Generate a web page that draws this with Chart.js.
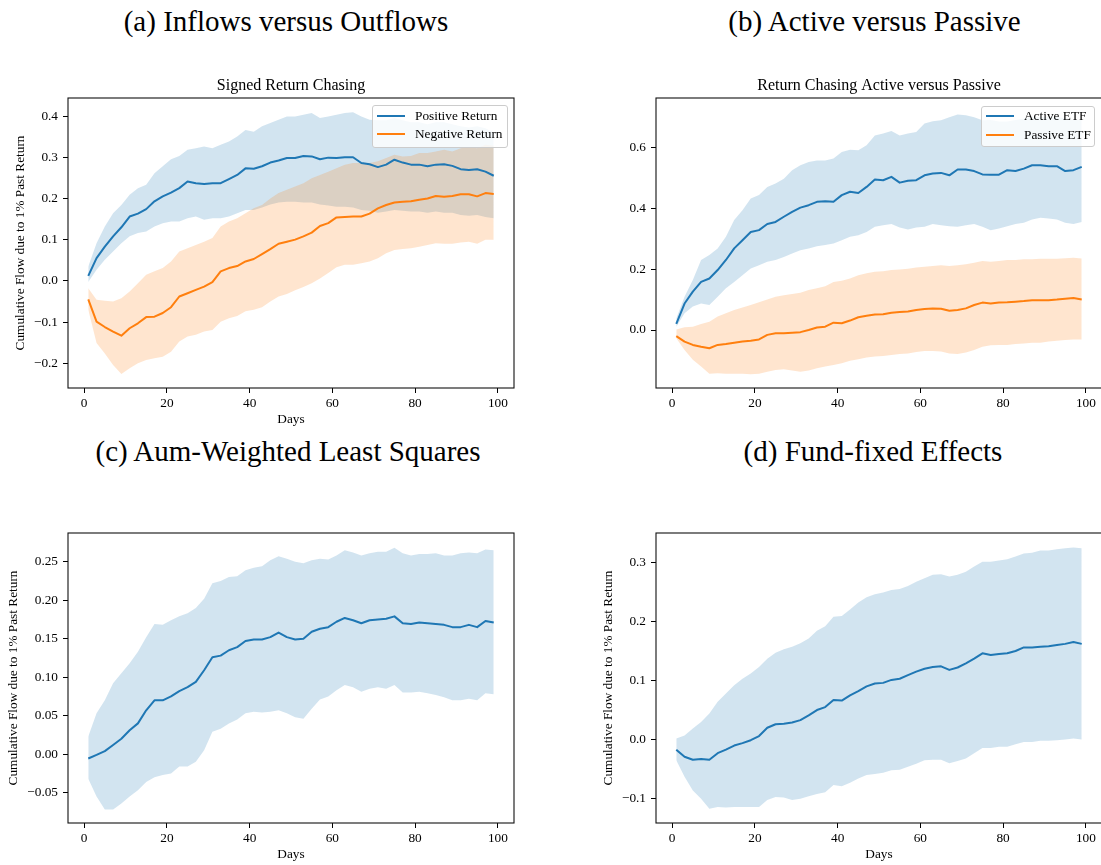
<!DOCTYPE html>
<html><head><meta charset="utf-8">
<script src="https://cdn.jsdelivr.net/npm/chart.js@4.4.1/dist/chart.umd.min.js"></script>
<style>
html,body{margin:0;padding:0;width:1101px;height:865px;overflow:hidden;background:#fff;position:relative;}
.cap{position:absolute;font-family:"Liberation Serif","Times New Roman",serif;font-size:29px;line-height:29px;color:#000;white-space:nowrap;transform:translateX(-50%);}
.leg{position:absolute;background:rgba(255,255,255,0.8);border:1px solid #cccccc;border-radius:3px;box-sizing:border-box;font-family:"Liberation Serif","Times New Roman",serif;font-size:13.3px;color:#000;z-index:5;}
.legtxt{position:absolute;white-space:nowrap;line-height:16px;}
.legsw{position:absolute;height:2px;}
</style></head><body>
<script>
// ---------- data ----------
const days = [1,3,5,7,9,11,13,15,17,19,21,23,25,27,29,31,33,35,37,39,41,43,45,47,49,51,53,55,57,59,61,63,65,67,69,71,73,75,77,79,81,83,85,87,89,91,93,95,97,99];
const xTicks = [0,20,40,60,80,100];
const xTickLabels = ['0','20','40','60','80','100'];

// (a) Inflows versus Outflows
const aSeriesNames = ['Positive Return','Negative Return'];
const aPosMean = [0.012,0.055,0.083,0.108,0.13,0.156,0.163,0.174,0.193,0.205,0.214,0.225,0.241,0.237,0.235,0.237,0.237,0.247,0.257,0.273,0.272,0.278,0.287,0.292,0.298,0.298,0.303,0.302,0.295,0.299,0.298,0.30,0.30,0.286,0.283,0.276,0.282,0.294,0.287,0.282,0.282,0.278,0.282,0.283,0.279,0.271,0.269,0.271,0.265,0.255];
const aPosUpper = [0.035,0.091,0.132,0.164,0.184,0.209,0.225,0.233,0.261,0.278,0.295,0.303,0.318,0.322,0.326,0.322,0.33,0.338,0.35,0.366,0.362,0.375,0.383,0.391,0.399,0.399,0.403,0.407,0.395,0.399,0.403,0.407,0.409,0.399,0.391,0.39,0.39,0.395,0.39,0.385,0.385,0.38,0.385,0.385,0.38,0.375,0.372,0.375,0.37,0.36];
const aPosLower = [-0.003,0.027,0.051,0.071,0.091,0.108,0.116,0.12,0.132,0.14,0.144,0.144,0.152,0.156,0.148,0.152,0.152,0.156,0.164,0.172,0.172,0.178,0.185,0.19,0.192,0.192,0.19,0.19,0.185,0.183,0.18,0.18,0.178,0.172,0.17,0.165,0.168,0.172,0.17,0.168,0.168,0.165,0.168,0.165,0.165,0.16,0.158,0.16,0.155,0.152];
const aNegMean = [-0.045,-0.099,-0.112,-0.123,-0.133,-0.115,-0.103,-0.088,-0.087,-0.078,-0.064,-0.038,-0.03,-0.022,-0.014,-0.003,0.023,0.031,0.036,0.047,0.053,0.065,0.077,0.09,0.095,0.1,0.108,0.117,0.133,0.14,0.154,0.155,0.156,0.156,0.163,0.176,0.184,0.19,0.192,0.193,0.197,0.2,0.206,0.204,0.206,0.21,0.21,0.205,0.213,0.211];
const aNegUpper = [-0.018,-0.046,-0.048,-0.05,-0.042,-0.026,-0.006,0.015,0.023,0.031,0.047,0.071,0.079,0.087,0.095,0.104,0.132,0.144,0.152,0.164,0.176,0.184,0.2,0.213,0.221,0.229,0.237,0.249,0.257,0.265,0.273,0.282,0.286,0.286,0.286,0.29,0.298,0.306,0.302,0.303,0.31,0.31,0.314,0.318,0.314,0.322,0.324,0.322,0.33,0.328];
const aNegLower = [-0.07,-0.151,-0.176,-0.204,-0.226,-0.212,-0.2,-0.192,-0.188,-0.184,-0.172,-0.147,-0.135,-0.131,-0.123,-0.119,-0.099,-0.091,-0.085,-0.074,-0.07,-0.064,-0.05,-0.038,-0.032,-0.023,-0.015,-0.006,0.006,0.019,0.033,0.039,0.039,0.043,0.047,0.055,0.067,0.075,0.077,0.079,0.083,0.087,0.091,0.09,0.09,0.093,0.095,0.09,0.1,0.1];
const aYTicks = [-0.2,-0.1,0,0.1,0.2,0.3,0.4];
const aYTickLabels = ['\u22120.2','\u22120.1','0.0','0.1','0.2','0.3','0.4'];

// (b) Active versus Passive
const bSeriesNames = ['Active ETF','Passive ETF'];
const bActMean = [0.02,0.087,0.126,0.158,0.169,0.197,0.23,0.268,0.295,0.322,0.328,0.348,0.355,0.372,0.388,0.402,0.41,0.421,0.423,0.421,0.443,0.454,0.45,0.47,0.494,0.492,0.503,0.484,0.49,0.492,0.508,0.514,0.516,0.508,0.527,0.527,0.522,0.511,0.51,0.51,0.525,0.522,0.53,0.541,0.541,0.538,0.538,0.522,0.525,0.536];
const bActUpper = [0.038,0.109,0.164,0.23,0.246,0.268,0.306,0.361,0.393,0.432,0.443,0.47,0.481,0.497,0.525,0.541,0.552,0.557,0.557,0.563,0.585,0.592,0.59,0.607,0.639,0.645,0.654,0.639,0.645,0.65,0.678,0.686,0.689,0.699,0.708,0.705,0.699,0.689,0.69,0.685,0.685,0.69,0.695,0.70,0.70,0.70,0.70,0.695,0.69,0.69];
const bActLower = [0.011,0.055,0.077,0.087,0.082,0.109,0.137,0.158,0.18,0.202,0.213,0.224,0.23,0.24,0.251,0.262,0.268,0.275,0.279,0.284,0.295,0.306,0.311,0.322,0.339,0.344,0.348,0.337,0.33,0.337,0.339,0.348,0.344,0.341,0.339,0.344,0.348,0.339,0.328,0.333,0.341,0.348,0.352,0.363,0.369,0.366,0.363,0.352,0.348,0.355];
const bPasMean = [-0.02,-0.038,-0.049,-0.055,-0.06,-0.049,-0.046,-0.042,-0.038,-0.035,-0.031,-0.016,-0.011,-0.011,-0.009,-0.007,0.0,0.008,0.011,0.024,0.022,0.031,0.042,0.047,0.051,0.052,0.057,0.059,0.061,0.066,0.069,0.071,0.07,0.063,0.066,0.071,0.082,0.09,0.087,0.09,0.091,0.093,0.095,0.098,0.098,0.098,0.1,0.103,0.105,0.1];
const bPasUpper = [0.002,0.009,0.011,0.02,0.027,0.044,0.055,0.066,0.074,0.082,0.091,0.1,0.109,0.114,0.118,0.122,0.131,0.137,0.144,0.158,0.162,0.169,0.18,0.186,0.191,0.193,0.197,0.199,0.201,0.205,0.208,0.21,0.213,0.21,0.213,0.216,0.221,0.227,0.224,0.227,0.23,0.23,0.232,0.232,0.234,0.234,0.234,0.236,0.237,0.235];
const bPasLower = [-0.027,-0.066,-0.098,-0.12,-0.144,-0.142,-0.144,-0.144,-0.144,-0.145,-0.144,-0.137,-0.131,-0.129,-0.133,-0.137,-0.133,-0.126,-0.12,-0.115,-0.109,-0.101,-0.096,-0.09,-0.087,-0.085,-0.082,-0.079,-0.077,-0.072,-0.069,-0.069,-0.071,-0.077,-0.079,-0.074,-0.066,-0.055,-0.05,-0.049,-0.049,-0.046,-0.044,-0.042,-0.042,-0.038,-0.035,-0.033,-0.031,-0.031];
const bYTicks = [0,0.2,0.4,0.6];
const bYTickLabels = ['0.0','0.2','0.4','0.6'];

// (c) Aum-Weighted Least Squares
const cMean = [-0.0056,-0.001,0.004,0.012,0.02,0.031,0.04,0.057,0.07,0.07,0.075,0.082,0.087,0.094,0.109,0.126,0.128,0.135,0.139,0.147,0.149,0.149,0.152,0.158,0.152,0.149,0.15,0.159,0.163,0.165,0.172,0.177,0.174,0.17,0.174,0.175,0.176,0.179,0.17,0.169,0.171,0.17,0.169,0.168,0.165,0.165,0.168,0.165,0.173,0.171];
const cUpper = [0.023,0.053,0.07,0.092,0.105,0.118,0.133,0.152,0.169,0.168,0.174,0.179,0.183,0.19,0.202,0.222,0.225,0.23,0.231,0.239,0.242,0.244,0.252,0.257,0.254,0.25,0.248,0.252,0.254,0.253,0.258,0.265,0.262,0.258,0.261,0.263,0.263,0.268,0.261,0.258,0.26,0.26,0.261,0.258,0.258,0.261,0.262,0.261,0.266,0.265];
const cLower = [-0.032,-0.055,-0.072,-0.072,-0.064,-0.055,-0.047,-0.036,-0.03,-0.027,-0.025,-0.016,-0.016,-0.01,0.005,0.029,0.033,0.04,0.045,0.053,0.055,0.054,0.055,0.057,0.053,0.048,0.046,0.059,0.071,0.075,0.083,0.09,0.087,0.081,0.085,0.087,0.085,0.09,0.08,0.08,0.081,0.079,0.077,0.074,0.07,0.07,0.072,0.07,0.079,0.078];
const cYTicks = [-0.05,0,0.05,0.1,0.15,0.2,0.25];
const cYTickLabels = ['\u22120.05','0.00','0.05','0.10','0.15','0.20','0.25'];

// (d) Fund-fixed Effects
const dMean = [-0.017,-0.029,-0.034,-0.033,-0.034,-0.023,-0.017,-0.01,-0.006,-0.001,0.006,0.02,0.026,0.027,0.029,0.033,0.041,0.05,0.055,0.067,0.066,0.075,0.082,0.09,0.095,0.096,0.101,0.103,0.109,0.115,0.12,0.123,0.124,0.118,0.122,0.129,0.137,0.146,0.143,0.145,0.146,0.15,0.156,0.156,0.157,0.158,0.16,0.162,0.165,0.162];
const dUpper = [0.002,0.007,0.019,0.03,0.044,0.064,0.078,0.092,0.103,0.112,0.123,0.137,0.147,0.153,0.157,0.163,0.171,0.184,0.192,0.208,0.209,0.22,0.232,0.241,0.246,0.249,0.253,0.255,0.26,0.267,0.273,0.279,0.28,0.276,0.279,0.284,0.293,0.301,0.301,0.303,0.305,0.31,0.315,0.316,0.32,0.32,0.322,0.324,0.325,0.324];
const dLower = [-0.035,-0.063,-0.086,-0.1,-0.117,-0.114,-0.115,-0.114,-0.114,-0.114,-0.114,-0.102,-0.097,-0.098,-0.102,-0.1,-0.096,-0.092,-0.089,-0.077,-0.079,-0.073,-0.066,-0.06,-0.058,-0.056,-0.052,-0.051,-0.046,-0.041,-0.035,-0.034,-0.034,-0.04,-0.036,-0.032,-0.023,-0.014,-0.014,-0.012,-0.012,-0.008,-0.004,-0.004,-0.002,-0.002,-0.001,0.0,0.002,0.0];
const dYTicks = [-0.1,0,0.1,0.2,0.3];
const dYTickLabels = ['\u22120.1','0.0','0.1','0.2','0.3'];

const captions = ['(a) Inflows versus Outflows','(b) Active versus Passive','(c) Aum-Weighted Least Squares','(d) Fund-fixed Effects'];
const subTitles = ['Signed Return Chasing','Return Chasing Active versus Passive','',''];
const yTitle = 'Cumulative Flow due to 1% Past Return';
const xTitle = 'Days';

// ---------- styling ----------
const SERIF = "'Liberation Serif','Times New Roman',serif";
const BLUE = '#1f77b4', ORANGE = '#ff7f0e';
const BLUE_F = 'rgba(31,119,180,0.2)', ORANGE_F = 'rgba(255,127,14,0.2)';
const tickFont = {family: SERIF, size: 13.3};

function pts(vals){ return vals.map((v,i)=>({x: days[i], y: v})); }

function series(name, mean, upper, lower, color, fillColor, bandOrder, lineOrder){
  return [
    {label: name+' upper', data: pts(upper), borderColor:'transparent', borderWidth:0, pointRadius:0, fill:'+1', backgroundColor: fillColor, order: bandOrder},
    {label: name+' lower', data: pts(lower), borderColor:'transparent', borderWidth:0, pointRadius:0, fill:false, backgroundColor:'transparent', order: bandOrder},
    {label: name, data: pts(mean), borderColor: color, borderWidth: 2, pointRadius:0, fill:false, tension:0, order: lineOrder, borderJoinStyle:'round', borderCapStyle:'butt'}
  ];
}

const framePlugin = {
  id: 'frame',
  afterDraw(chart){
    const {ctx, chartArea:a} = chart;
    ctx.save();
    ctx.strokeStyle = '#111';
    ctx.lineWidth = 1.1;
    ctx.strokeRect(a.left, a.top, a.right - a.left, a.bottom - a.top);
    ctx.restore();
  }
};

function panel(cfg){
  const div = document.createElement('div');
  div.style.cssText = `position:absolute;left:${cfg.left}px;top:${cfg.top}px;width:${cfg.w}px;height:${cfg.h}px;`;
  const cv = document.createElement('canvas');
  cv.width = cfg.w; cv.height = cfg.h;
  cv.style.width = cfg.w+'px'; cv.style.height = cfg.h+'px';
  div.appendChild(cv);
  document.body.appendChild(div);
  new Chart(cv, {
    type: 'line',
    data: {datasets: cfg.datasets},
    plugins: [framePlugin],
    options: {
      responsive: false, animation: false, devicePixelRatio: 1,
      layout: {padding: {top: cfg.padTop, left: 0, right: cfg.padRight, bottom: 0}},
      plugins: {
        legend: {display: false},
        tooltip: {enabled: false},
        title: {display: !!cfg.title, text: cfg.title, fullSize: false, color: '#000',
                font: {family: SERIF, size: 16, weight: 'normal'}, padding: {top: 6, bottom: 2.8}}
      },
      scales: {
        x: {
          type: 'linear', min: -3.9, max: 103.9,
          afterBuildTicks: s => { s.ticks = xTicks.map(v => ({value: v})); },
          afterFit: s => { s.height = cfg.xAxisH; },
          ticks: {callback: (v, i) => xTickLabels[i], font: tickFont, color: '#000', padding: 3, maxRotation: 0, autoSkip: false},
          grid: {drawOnChartArea: false, drawTicks: true, tickLength: 5, tickColor: '#000', tickWidth: 1},
          border: {display: false},
          title: {display: cfg.showX, text: xTitle, color: '#000', font: tickFont, padding: {top: 0, bottom: 2.3}}
        },
        y: {
          type: 'linear', min: cfg.yMin, max: cfg.yMax,
          afterBuildTicks: s => { s.ticks = cfg.yTicks.map(v => ({value: v})); },
          afterFit: s => { s.width = cfg.yAxisW; },
          ticks: {callback: (v, i) => cfg.yLabels[i], font: tickFont, color: '#000', padding: 5, autoSkip: false},
          grid: {drawOnChartArea: false, drawTicks: true, tickLength: 5, tickColor: '#000', tickWidth: 1},
          border: {display: false},
          title: {display: cfg.showY, text: yTitle, color: '#000', font: tickFont, padding: {top: cfg.yTitlePad, bottom: 0}}
        }
      }
    }
  });
}

function caption(text, cx, baseline){
  const d = document.createElement('div');
  d.className = 'cap';
  d.textContent = text;
  d.style.left = cx + 'px';
  d.style.top = (baseline - 24.3) + 'px';
  document.body.appendChild(d);
}

function legend(left, top, w, h, labels, colors){
  const box = document.createElement('div');
  box.className = 'leg';
  box.style.cssText += `left:${left}px;top:${top}px;width:${w}px;height:${h}px;`;
  labels.forEach((lab, i) => {
    const cy = 9.7 + i * 18.6;
    const sw = document.createElement('div');
    sw.className = 'legsw';
    sw.style.cssText += `left:3.7px;top:${cy - 1}px;width:28.3px;background:${colors[i]};`;
    const t = document.createElement('div');
    t.className = 'legtxt';
    t.textContent = lab;
    t.style.cssText += `left:42px;top:${cy - 8}px;`;
    box.appendChild(sw); box.appendChild(t);
  });
  document.body.appendChild(box);
}

caption(captions[0], 286, 31.7);
caption(captions[1], 874.5, 31.7);
caption(captions[2], 288, 461.7);
caption(captions[3], 873, 461.7);

panel({left: 0, top: 70, w: 520, h: 360, padTop: 0, padRight: 6, xAxisH: 42, yAxisW: 68,
  title: subTitles[0], yMin: -0.26, yMax: 0.4437, yTicks: aYTicks, yLabels: aYTickLabels,
  showX: true, showY: true, yTitlePad: 12.5,
  datasets: [
    ...series(aSeriesNames[0], aPosMean, aPosUpper, aPosLower, BLUE, BLUE_F, 4, 2),
    ...series(aSeriesNames[1], aNegMean, aNegUpper, aNegLower, ORANGE, ORANGE_F, 3, 1)
  ]});

panel({left: 590, top: 70, w: 530, h: 360, padTop: 0, padRight: 18, xAxisH: 42, yAxisW: 66,
  title: subTitles[1], yMin: -0.1905, yMax: 0.762, yTicks: bYTicks, yLabels: bYTickLabels,
  showX: false, showY: false, yTitlePad: 0,
  datasets: [
    ...series(bSeriesNames[0], bActMean, bActUpper, bActLower, BLUE, BLUE_F, 4, 2),
    ...series(bSeriesNames[1], bPasMean, bPasUpper, bPasLower, ORANGE, ORANGE_F, 3, 1)
  ]});

panel({left: 0, top: 505, w: 520, h: 360, padTop: 28, padRight: 6, xAxisH: 42, yAxisW: 68,
  title: '', yMin: -0.0894, yMax: 0.2873, yTicks: cYTicks, yLabels: cYTickLabels,
  showX: true, showY: true, yTitlePad: 5.8,
  datasets: [...series('AUM-weighted', cMean, cUpper, cLower, BLUE, BLUE_F, 4, 2)]});

panel({left: 590, top: 505, w: 530, h: 360, padTop: 28, padRight: 18, xAxisH: 42, yAxisW: 66,
  title: '', yMin: -0.1411, yMax: 0.3496, yTicks: dYTicks, yLabels: dYTickLabels,
  showX: true, showY: true, yTitlePad: 10.7,
  datasets: [...series('Fund fixed effects', dMean, dUpper, dLower, BLUE, BLUE_F, 4, 2)]});

legend(372, 105, 136, 43, aSeriesNames, [BLUE, ORANGE]);
legend(981, 105.7, 114, 41, bSeriesNames, [BLUE, ORANGE]);
</script>
</body></html>
